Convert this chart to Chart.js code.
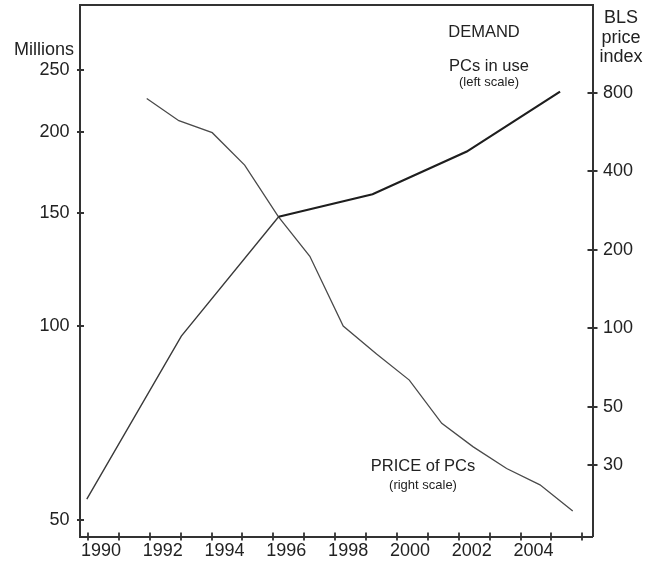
<!DOCTYPE html>
<html>
<head>
<meta charset="utf-8">
<script src="https://cdn.jsdelivr.net/npm/chart.js@4/dist/chart.umd.min.js"></script>
<style>
  body{margin:0;background:#fff;}
  canvas{display:block;}
</style>
</head>
<body>
<canvas id="chart" width="646" height="565"></canvas>
<script>
// ================= DATA ==================
// PCs in use, millions (left scale) - x in years, tick marks sit on year starts
const pcYears = [1989.96, 1993.02, 1996.17, 1999.21, 2002.26, 2005.28];
const pcInUse = [53.9, 96.5, 147.8, 160.1, 186.5, 231.0];

// BLS price index of PCs (right scale)
const priceYears = [1991.90, 1992.94, 1994.02, 1995.07, 1996.16, 1997.18, 1998.26,
                    1999.34, 2000.40, 2001.45, 2002.47, 2003.55, 2004.63, 2005.69];
const priceIndex = [762, 626, 563, 423, 268, 189, 102, 79.7, 63.3, 43.2, 35.1, 29.0, 25.1, 19.9];

// axes
const yearMarks  = [1990,1991,1992,1993,1994,1995,1996,1997,1998,1999,2000,2001,2002,2003,2004,2005,2006];
const yearLabels = [1990,1992,1994,1996,1998,2000,2002,2004];
const leftTicks  = [50,100,150,200,250];
const rightTicks = [30,50,100,200,400,800];

const FONT = '"Liberation Sans", Arial, Helvetica, sans-serif';
const INK = "#222";
const AXIS = "#333";
const labelShift = 0.42; // year labels sit a bit right of their tick mark

const xMin = 1989.74, xMax = 2006.33;

function noPad(s){
  s.paddingLeft = 0; s.paddingRight = 0;
  s.paddingTop = 0; s.paddingBottom = 0;
}

// ================= EXTRA DRAWING ==================
const decorPlugin = {
  id: "decor",
  afterDraw(chart){
    const ctx = chart.ctx;
    const a = chart.chartArea;
    const x = chart.scales.x, yL = chart.scales.yL, yR = chart.scales.yR;

    // tick marks crossing the axis lines
    ctx.save();
    ctx.strokeStyle = AXIS;
    ctx.lineWidth = 1.8;
    ctx.beginPath();
    yearMarks.forEach(v=>{
      const px = Math.round(x.getPixelForValue(v));
      ctx.moveTo(px, a.bottom - 4);
      ctx.lineTo(px, a.bottom + 4);
    });
    leftTicks.forEach(v=>{
      const py = Math.round(yL.getPixelForValue(v));
      ctx.moveTo(a.left - 3, py);
      ctx.lineTo(a.left + 4, py);
    });
    rightTicks.forEach(v=>{
      const py = Math.round(yR.getPixelForValue(v));
      ctx.moveTo(a.right - 5, py);
      ctx.lineTo(a.right + 5, py);
    });
    ctx.stroke();

    // texts
    ctx.fillStyle = INK;
    ctx.textBaseline = "middle";

    ctx.font = "18px " + FONT;
    ctx.textAlign = "right";
    ctx.fillText("Millions", 74, 50);

    ctx.textAlign = "center";
    ctx.fillText("BLS", 621, 18);
    ctx.fillText("price", 621, 38);
    ctx.fillText("index", 621, 57);

    ctx.font = "16.5px " + FONT;
    ctx.fillText("DEMAND", 484, 32);
    ctx.fillText("PCs in use", 489, 66);
    ctx.fillText("PRICE of PCs", 423, 466);

    ctx.font = "13px " + FONT;
    ctx.fillText("(left scale)", 489, 82);
    ctx.fillText("(right scale)", 423, 485);
    ctx.restore();
  }
};

// ================= CHART ==================
const tickFont = { family: FONT, size: 18 };

new Chart(document.getElementById("chart"), {
  type: "line",
  data: {
    datasets: [
      {
        label: "PCs in use",
        data: pcYears.map((y,i)=>({x:y, y:pcInUse[i]})),
        xAxisID: "x", yAxisID: "yL",
        borderColor: "#1e1e1e",
        borderWidth: 2.2,
        // early part of the series is drawn thinner in the original
        segment: {
          borderWidth: c => c.p0.parsed.x < 1996 ? 1.4 : 2.2,
          borderColor: c => c.p0.parsed.x < 1996 ? "#3a3a3a" : "#1e1e1e"
        },
        pointRadius: 0,
        tension: 0
      },
      {
        label: "PRICE of PCs",
        data: priceYears.map((y,i)=>({x:y, y:priceIndex[i]})),
        xAxisID: "x", yAxisID: "yR",
        borderColor: "#4a4a4a",
        borderWidth: 1.3,
        pointRadius: 0,
        tension: 0
      }
    ]
  },
  options: {
    responsive: false,
    animation: false,
    layout: { padding: 0 },
    plugins: { legend: { display: false }, tooltip: { enabled: false } },
    scales: {
      x: {
        type: "linear", position: "bottom", min: xMin, max: xMax,
        grid: { display: false, drawTicks: false },
        border: { display: true, color: AXIS, width: 2 },
        afterBuildTicks: s => { s.ticks = yearLabels.map(v => ({ value: v + labelShift })); },
        ticks: { autoSkip: false, maxRotation: 0, padding: 4, color: INK, font: tickFont,
                 callback: v => String(Math.floor(v)) },
        afterFit: s => { s.height = 28.5; noPad(s); }
      },
      xTop: {
        type: "linear", position: "top", min: xMin, max: xMax,
        grid: { display: false, drawTicks: false },
        border: { display: true, color: AXIS, width: 2 },
        ticks: { display: false },
        afterFit: s => { s.height = 5; noPad(s); }
      },
      yL: {
        type: "logarithmic", position: "left", min: 47.17, max: 314.8,
        grid: { display: false, drawTicks: false },
        border: { display: true, color: AXIS, width: 2 },
        afterBuildTicks: s => { s.ticks = leftTicks.map(v => ({ value: v })); },
        ticks: { padding: 10.5, color: INK, font: tickFont, callback: v => String(v) },
        afterFit: s => { s.width = 80; noPad(s); }
      },
      yR: {
        type: "logarithmic", position: "right", min: 15.9, max: 1739,
        grid: { display: false, drawTicks: false },
        border: { display: true, color: AXIS, width: 2 },
        afterBuildTicks: s => { s.ticks = rightTicks.map(v => ({ value: v })); },
        ticks: { padding: 10.5, color: INK, font: tickFont, callback: v => String(v) },
        afterFit: s => { s.width = 53.5; noPad(s); }
      }
    }
  },
  plugins: [decorPlugin]
});
</script>
</body>
</html>
